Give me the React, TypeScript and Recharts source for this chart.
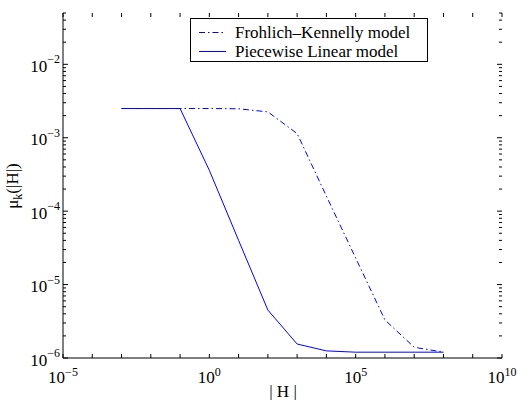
import { LineChart, Line, XAxis, YAxis, Legend } from 'recharts';

const hValues = [1e-3, 1e-2, 1e-1, 1, 1e1, 1e2, 1e3, 1e4, 1e5, 1e6, 1e7, 1e8];
const frohlichKennelly = [2.5e-3, 2.5e-3, 2.5e-3, 2.5e-3, 2.48e-3, 2.25e-3, 1.14e-3, 1.6e-4, 2.3e-5, 3.3e-6, 1.4e-6, 1.2e-6];
const piecewiseLinear = [2.5e-3, 2.5e-3, 2.5e-3, 3.6e-4, 4e-5, 4.5e-6, 1.55e-6, 1.25e-6, 1.2e-6, 1.2e-6, 1.2e-6, 1.2e-6];

const xTicks = [1e-5, 1e-4, 1e-3, 1e-2, 1e-1, 1, 1e1, 1e2, 1e3, 1e4, 1e5, 1e6, 1e7, 1e8, 1e9, 1e10];
const xLabelExps = [-5, 0, 5, 10];
const yTicks = [
  1e-6, 2e-6, 3e-6, 4e-6, 5e-6, 6e-6, 7e-6, 8e-6, 9e-6,
  1e-5, 2e-5, 3e-5, 4e-5, 5e-5, 6e-5, 7e-5, 8e-5, 9e-5,
  1e-4, 2e-4, 3e-4, 4e-4, 5e-4, 6e-4, 7e-4, 8e-4, 9e-4,
  1e-3, 2e-3, 3e-3, 4e-3, 5e-3, 6e-3, 7e-3, 8e-3, 9e-3,
  1e-2, 2e-2, 3e-2, 4e-2, 5e-2,
];

const data = hValues.map((h, i) => ({ h, fk: frohlichKennelly[i], pl: piecewiseLinear[i] }));

const FONT = 'Liberation Serif';
const BLUE = '#0000ff';
const DASH_DOT = '6 3 1.5 3';
const LEFT = 63;
const RIGHT = 502;
const TOP = 13;
const BOTTOM = 358;

function exponentOf(v: number) {
  return Math.round(Math.log10(v));
}

function isDecade(v: number) {
  const e = Math.log10(v);
  return Math.abs(e - Math.round(e)) < 1e-6;
}

function supText(e: number) {
  return e < 0 ? '\u2212' + Math.abs(e) : String(e);
}

function YTick(props: any) {
  const { y, payload } = props;
  const v = payload.value;
  const major = isDecade(v);
  const len = major ? 5 : 3;
  return (
    <g>
      <line x1={LEFT} x2={LEFT + len} y1={y} y2={y} stroke="#000" />
      <line x1={RIGHT} x2={RIGHT - len} y1={y} y2={y} stroke="#000" />
      {major && (
        <text x={60} y={y + 7.5} textAnchor="end" style={{ fontFamily: FONT, fontSize: 17 }} fill="#000">
          10
          <tspan dy={-8.5} style={{ fontSize: 12 }}>{supText(exponentOf(v))}</tspan>
        </text>
      )}
    </g>
  );
}

function XTick(props: any) {
  const { x, payload } = props;
  const e = exponentOf(payload.value);
  const labelled = xLabelExps.includes(e);
  return (
    <g>
      <line x1={x} x2={x} y1={BOTTOM} y2={BOTTOM - 4} stroke="#000" />
      <line x1={x} x2={x} y1={TOP} y2={TOP + 4} stroke="#000" />
      {labelled && (
        <text x={x} y={383} textAnchor="middle" style={{ fontFamily: FONT, fontSize: 17 }} fill="#000">
          10
          <tspan dy={-7} style={{ fontSize: 12 }}>{supText(e)}</tspan>
        </text>
      )}
    </g>
  );
}

function YTitle() {
  return (
    <text
      x={-186}
      y={18}
      transform="rotate(-90)"
      textAnchor="middle"
      style={{ fontFamily: FONT, fontSize: 17 }}
      fill="#000"
    >
      μ
      <tspan dy={4} style={{ fontSize: 12 }}>k</tspan>
      <tspan dy={-4}>(|H|)</tspan>
    </text>
  );
}

function LegendBox(props: any) {
  const items = props.payload || [];
  return (
    <div
      style={{
        boxSizing: 'border-box',
        width: 238,
        height: 44,
        border: '1px solid #000',
        background: '#fff',
        paddingTop: 4,
        fontFamily: FONT,
        fontSize: 17,
        color: '#000',
      }}
    >
      {items.map((item: any) => (
        <div key={item.value} style={{ height: 19, display: 'flex', alignItems: 'center', lineHeight: '19px' }}>
          <svg width={44} height={19} style={{ display: 'block', flexShrink: 0 }}>
            <line
              x1={8}
              x2={35}
              y1={9.5}
              y2={9.5}
              stroke={BLUE}
              strokeDasharray={item.payload?.strokeDasharray}
            />
          </svg>
          <span style={{ whiteSpace: 'nowrap' }}>{item.value}</span>
        </div>
      ))}
    </div>
  );
}

export default function App() {
  return (
    <div style={{ position: 'absolute', left: 0, top: 0, width: 524, height: 400, background: '#fff' }}>
      <LineChart width={524} height={400} data={data} margin={{ top: TOP, right: 524 - RIGHT, bottom: 0, left: 0 }}>
        <XAxis
          dataKey="h"
          type="number"
          scale="log"
          domain={[1e-5, 1e10]}
          allowDataOverflow
          ticks={xTicks}
          interval={0}
          tickLine={false}
          tick={<XTick />}
          axisLine={{ stroke: '#000' }}
          height={400 - BOTTOM}
        />
        <XAxis
          xAxisId="top"
          orientation="top"
          dataKey="h"
          type="number"
          scale="log"
          domain={[1e-5, 1e10]}
          allowDataOverflow
          tick={false}
          tickLine={false}
          axisLine={{ stroke: '#000' }}
          height={0}
        />
        <YAxis
          type="number"
          scale="log"
          domain={[1e-6, 5e-2]}
          allowDataOverflow
          ticks={yTicks}
          interval={0}
          tickLine={false}
          tick={<YTick />}
          axisLine={{ stroke: '#000' }}
          width={LEFT}
          label={<YTitle />}
        />
        <YAxis
          yAxisId="right"
          orientation="right"
          type="number"
          scale="log"
          domain={[1e-6, 5e-2]}
          allowDataOverflow
          tick={false}
          tickLine={false}
          axisLine={{ stroke: '#000' }}
          width={0}
        />
        <Legend
          layout="vertical"
          align="center"
          verticalAlign="middle"
          content={<LegendBox />}
          wrapperStyle={{ position: 'absolute', left: 190, top: 18, width: 238, height: 44 }}
        />
        <Line
          name={'Frohlich\u2013Kennelly model'}
          dataKey="fk"
          stroke={BLUE}
          strokeWidth={1}
          strokeDasharray={DASH_DOT}
          dot={false}
          activeDot={false}
          isAnimationActive={false}
        />
        <Line
          name="Piecewise Linear model"
          dataKey="pl"
          stroke={BLUE}
          strokeWidth={1}
          dot={false}
          activeDot={false}
          isAnimationActive={false}
        />
      </LineChart>
      <div
        style={{
          position: 'absolute',
          left: 233,
          width: 100,
          top: 383,
          height: 17,
          textAlign: 'center',
          fontFamily: FONT,
          fontSize: 17,
          lineHeight: '17px',
          color: '#000',
          whiteSpace: 'pre',
        }}
      >
        | H |
      </div>
    </div>
  );
}
